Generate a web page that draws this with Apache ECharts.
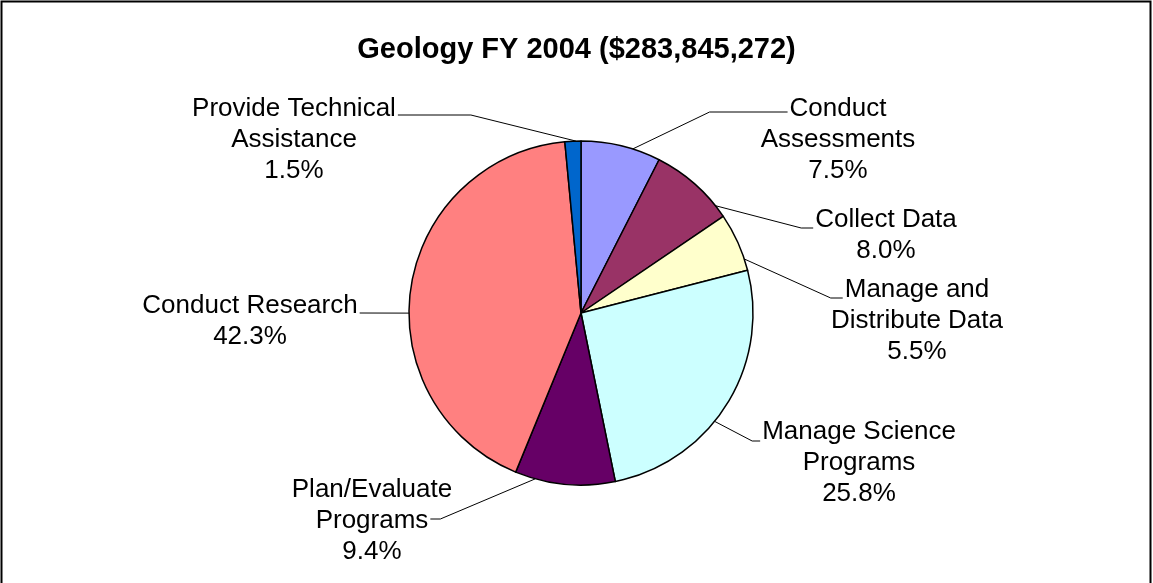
<!DOCTYPE html>
<html>
<head>
<meta charset="utf-8">
<script src="https://cdn.jsdelivr.net/npm/echarts@6/dist/echarts.min.js"></script>
<style>
html, body { margin: 0; padding: 0; background: #fff; }
#main { width: 1153px; height: 583px; }
</style>
</head>
<body>
<div id="main"></div>
<script>
var chartTitle = 'Geology FY 2004 ($283,845,272)';
var categories = ['Conduct\nAssessments', 'Collect Data', 'Manage and\nDistribute Data',
    'Manage Science\nPrograms', 'Plan/Evaluate\nPrograms', 'Conduct Research',
    'Provide Technical\nAssistance'];
var shares = [7.5, 8.0, 5.5, 25.8, 9.4, 42.3, 1.5];
var colors = ['#9999FF', '#993366', '#FFFFCC', '#CCFFFF', '#660066', '#FF8080', '#0066CC'];

// where each label sits (block centre) and how its leader line attaches
var labelCentre = [[838, 140], [886, 235], [917, 321], [859, 463], [372, 521], [250, 321], [294, 140]];
var leaderRow = [0, 0, 0, 0, 1, 0, 0];
var leaderDy = [-28, -7, -23, -22, -2, -8, -25];
var leaderRun = [78, 12, 12, 8, 10, 0, 73];
var leaderTurn = [4, 10, 6, 7, 10, -8.5, 1];

var pieCentre = [581, 313];
var labelFont = '26px "Liberation Sans", Arial, sans-serif';

var ctx = document.createElement('canvas').getContext('2d');
ctx.font = labelFont;

function labelText(i) {
    return categories[i] + '\n' + shares[i].toFixed(1) + '%';
}

var myChart = echarts.init(document.getElementById('main'));

var option = {
    animation: false,
    title: {
        text: chartTitle,
        left: 'center',
        top: 30,
        textStyle: {
            fontFamily: '"Liberation Sans", Arial, sans-serif',
            fontWeight: 'bold',
            fontSize: 29,
            color: '#000'
        }
    },
    graphic: [{
        type: 'rect',
        shape: { x: 1.5, y: 1.5, width: 1149, height: 620 },
        style: { fill: 'none', stroke: '#000', lineWidth: 2 }
    }],
    series: [{
        type: 'pie',
        center: pieCentre,
        radius: 172,
        startAngle: 90,
        clockwise: true,
        data: shares.map(function (v, i) {
            return { name: categories[i], value: v, itemStyle: { color: colors[i] } };
        }),
        itemStyle: { borderColor: '#000', borderWidth: 1.5 },
        emphasis: { disabled: true },
        label: {
            show: true,
            position: 'outside',
            formatter: function (p) { return labelText(p.dataIndex); },
            fontFamily: '"Liberation Sans", Arial, sans-serif',
            fontSize: 26,
            lineHeight: 31,
            color: '#000',
            align: 'center'
        },
        labelLine: {
            show: true,
            lineStyle: { color: '#000', width: 1 }
        },
        labelLayout: function (p) {
            var i = p.dataIndex;
            var c = labelCentre[i];
            var line = labelText(i).split('\n')[leaderRow[i]];
            var w = ctx.measureText(line).width;
            var right = c[0] > pieCentre[0];
            var ex = right ? c[0] - w / 2 - 2 : c[0] + w / 2 + 2;
            var ey = c[1] + leaderDy[i];
            var kx = right ? ex - leaderRun[i] : ex + leaderRun[i];
            var s = p.labelLinePoints[0];
            var t = leaderTurn[i] * Math.PI / 180;
            var dx = s[0] - pieCentre[0], dy = s[1] - pieCentre[1];
            var start = [pieCentre[0] + dx * Math.cos(t) - dy * Math.sin(t),
                         pieCentre[1] + dx * Math.sin(t) + dy * Math.cos(t)];
            return {
                x: c[0],
                y: c[1],
                align: 'center',
                verticalAlign: 'middle',
                labelLinePoints: [start, [kx, ey], [ex, ey]]
            };
        }
    }]
};

myChart.setOption(option);
</script>
</body>
</html>
